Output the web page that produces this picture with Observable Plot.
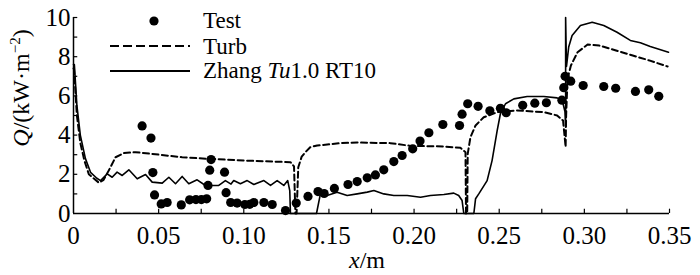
<!DOCTYPE html>
<html>
<head>
<meta charset="utf-8">
<script src="https://cdn.jsdelivr.net/npm/d3@7"></script>
<script src="https://cdn.jsdelivr.net/npm/@observablehq/plot@0.6"></script>
<style>
  html, body { margin: 0; padding: 0; background: #fff; }
  html body #chart svg text, html body #chart svg tspan { font-family: "Liberation Serif", serif !important; }
</style>
</head>
<body>
<div id="chart"></div>
<script>
// Test (measured) values
const testX = [0.0403,0.0455,0.0466,0.0476,0.0515,0.0550,0.0633,0.0682,0.0719,0.0751,0.0782,0.0790,0.0800,0.0808,0.0887,0.0896,0.0923,0.0961,0.1006,0.1035,0.1059,0.1118,0.1167,0.1245,0.1308,0.1377,0.1436,0.1472,0.1532,0.1612,0.1666,0.1725,0.1773,0.1822,0.1881,0.1930,0.1992,0.2035,0.2087,0.2169,0.2267,0.2282,0.2315,0.2376,0.2445,0.2507,0.2541,0.2638,0.2709,0.2777,0.2868,0.2879,0.2887,0.2920,0.2993,0.3114,0.3184,0.3300,0.3378,0.3437];
const testQ = [4.47,3.85,2.09,0.95,0.49,0.56,0.44,0.70,0.71,0.71,0.75,1.43,2.21,2.75,2.11,1.06,0.56,0.53,0.46,0.47,0.56,0.56,0.46,0.15,0.53,0.87,1.12,1.02,1.28,1.48,1.63,1.82,1.97,2.23,2.65,2.96,3.30,3.70,4.12,4.54,4.49,5.07,5.60,5.47,5.24,5.37,5.14,5.52,5.63,5.65,5.78,6.42,7.00,6.75,6.53,6.48,6.39,6.23,6.31,5.98];

// Turb (dashed)
const turbX = [0.0000,0.0003,0.0020,0.0040,0.0064,0.0090,0.0149,0.0175,0.0207,0.0247,0.0296,0.0364,0.0462,0.0638,0.0795,0.1010,0.1274,0.1295,0.1303,0.1310,0.1320,0.1340,0.1362,0.1390,0.1431,0.1490,0.1568,0.1666,0.1861,0.1979,0.2174,0.2272,0.2302,0.2305,0.2312,0.2315,0.2331,0.2361,0.2409,0.2488,0.2605,0.2762,0.2840,0.2875,0.2890,0.2893,0.2901,0.2921,0.2960,0.3019,0.3087,0.3186,0.3284,0.3381,0.3489];
const turbQ = [7.4,7.4,5.0,3.6,2.7,2.0,1.57,1.70,2.19,2.87,3.08,3.13,3.04,2.87,2.79,2.70,2.62,2.40,0.0,0.0,2.36,2.90,3.13,3.38,3.47,3.52,3.59,3.62,3.59,3.45,3.42,3.35,3.13,0.0,0.0,3.04,3.89,4.49,4.91,5.17,5.26,5.17,5.00,4.74,3.40,5.00,6.87,7.55,8.23,8.62,8.57,8.32,8.06,7.81,7.50];

// Zhang Tu1.0 RT10 (solid)
const zhangX = [0.0000,0.0005,0.0020,0.0040,0.0070,0.0100,0.0137,0.0159,0.0198,0.0227,0.0256,0.0286,0.0325,0.0374,0.0423,0.0462,0.0521,0.0560,0.0599,0.0638,0.0677,0.0726,0.0775,0.0853,0.0892,0.0925,0.0941,0.0980,0.1020,0.1059,0.1118,0.1157,0.1196,0.1235,0.1258,0.1270,0.1274,0.1427,0.1450,0.1489,0.1548,0.1607,0.1666,0.1725,0.1764,0.1822,0.1881,0.1960,0.2038,0.2096,0.2175,0.2233,0.2262,0.2282,0.2292,0.2351,0.2361,0.2380,0.2429,0.2458,0.2488,0.2507,0.2537,0.2586,0.2664,0.2762,0.2840,0.2870,0.2886,0.2890,0.2890,0.2895,0.2908,0.2928,0.2977,0.3046,0.3114,0.3192,0.3270,0.3329,0.3387,0.3494];
const zhangQ = [7.6,7.6,5.5,4.0,2.8,2.1,1.8,1.68,2.02,1.85,2.11,1.94,2.23,1.77,1.99,1.60,1.55,1.85,1.52,1.89,1.52,1.72,1.43,1.43,1.68,1.50,1.68,1.52,1.68,1.48,1.68,1.43,1.68,1.43,1.68,1.17,0.0,0.0,1.00,0.92,1.09,0.92,1.00,1.09,1.17,1.00,0.92,0.92,0.83,0.92,0.97,1.04,0.92,0.66,0.0,0.0,0.75,1.00,1.68,2.70,4.23,5.09,5.60,5.85,5.97,5.97,5.90,5.77,5.20,4.40,10.0,7.5,8.49,9.08,9.59,9.76,9.59,9.25,8.83,8.71,8.52,8.23];

const xTickValues = [0, 0.05, 0.10, 0.15, 0.20, 0.25, 0.30, 0.35];
const xTickLabels = ["0", "0.05", "0.10", "0.15", "0.20", "0.25", "0.30", "0.35"];
const xMinorTicks = [0.025,0.05,0.075,0.10,0.125,0.15,0.175,0.20,0.225,0.25,0.275,0.30,0.325,0.35];
const yTickValues = [0, 2, 4, 6, 8, 10];
const yMinorTicks = [1,2,3,4,5,6,7,8,9,10];

const legendLabels = ["Test", "Turb", "Zhang Tu1.0 RT10"];

const test = testX.map((x, i) => ({x, q: testQ[i]}));
const turb = turbX.map((x, i) => ({x, q: turbQ[i]}));
const zhang = zhangX.map((x, i) => ({x, q: zhangQ[i]}));

const FONT = '"Liberation Serif", serif';

const chart = Plot.plot({
  width: 700,
  height: 275,
  marginLeft: 73,
  marginRight: 31,
  marginTop: 17,
  marginBottom: 62,
  style: {background: "white", color: "#000"},
  x: {domain: [0, 0.35]},
  y: {domain: [0, 10]},
  marks: [
    Plot.axisX(xTickValues, {tickSize: 0, tickPadding: 13, fontSize: 25, tickFormat: (d, i) => xTickLabels[i], label: null}),
    Plot.axisY(yTickValues, {tickSize: 0, tickPadding: 3, fontSize: 25, label: null}),
    Plot.ruleX(xMinorTicks, {x: d => d, y1: 0, y2: 0.22, stroke: "#000", strokeWidth: 1.2}),
    Plot.ruleY(yMinorTicks, {y: d => d, x1: 0, x2: 0.0025, stroke: "#000", strokeWidth: 1.2}),
    Plot.ruleY([0], {stroke: "#000", strokeWidth: 1.5}),
    Plot.ruleX([0], {stroke: "#000", strokeWidth: 1.5}),
    Plot.line(turb, {x: "x", y: "q", stroke: "#000", strokeWidth: 2, strokeDasharray: "6,3.5"}),
    Plot.line(zhang, {x: "x", y: "q", stroke: "#000", strokeWidth: 1.6}),
    Plot.dot(test, {x: "x", y: "q", r: 4.6, fill: "#000", stroke: "none"})
  ]
});

const svg = d3.select(chart);

// Y axis title
const yt = svg.append("text")
  .attr("transform", "translate(29,88) rotate(-90)")
  .attr("text-anchor", "middle")
  .attr("font-size", 24)
  .attr("fill", "#000");
yt.append("tspan").attr("font-style", "italic").text("Q");
yt.append("tspan").text("/(kW·m");
yt.append("tspan").attr("font-size", 15).attr("dy", -9).text("−2");
yt.append("tspan").attr("dy", 9).text(")");

// X axis title
const xt = svg.append("text")
  .attr("x", 367).attr("y", 268)
  .attr("text-anchor", "middle")
  .attr("font-size", 24)
  .attr("fill", "#000");
xt.append("tspan").attr("font-style", "italic").text("x");
xt.append("tspan").text("/m");

// Legend
const lg = svg.append("g").attr("fill", "#000").attr("text-anchor", "start");
lg.append("circle").attr("cx", 154).attr("cy", 21).attr("r", 4.6);
lg.append("line").attr("x1", 110).attr("x2", 190).attr("y1", 46).attr("y2", 46)
  .attr("stroke", "#000").attr("stroke-width", 2).attr("stroke-dasharray", "9,4");
lg.append("line").attr("x1", 110).attr("x2", 190).attr("y1", 71).attr("y2", 71)
  .attr("stroke", "#000").attr("stroke-width", 2);
lg.append("text").attr("x", 203).attr("y", 28).attr("font-size", 23).text(legendLabels[0]);
lg.append("text").attr("x", 203).attr("y", 54).attr("font-size", 23).text(legendLabels[1]);
const z = lg.append("text").attr("x", 203).attr("y", 78).attr("font-size", 23);
z.append("tspan").text("Zhang ");
z.append("tspan").attr("font-style", "italic").text("Tu");
z.append("tspan").text("1.0 RT10");

document.getElementById("chart").appendChild(chart);

// inline !important so no other stylesheet can replace the serif face
chart.style.setProperty("font-family", FONT, "important");
chart.querySelectorAll("text, tspan, g").forEach(el => {
  el.setAttribute("font-family", FONT);
  el.style.setProperty("font-family", FONT, "important");
});
</script>
</body>
</html>
